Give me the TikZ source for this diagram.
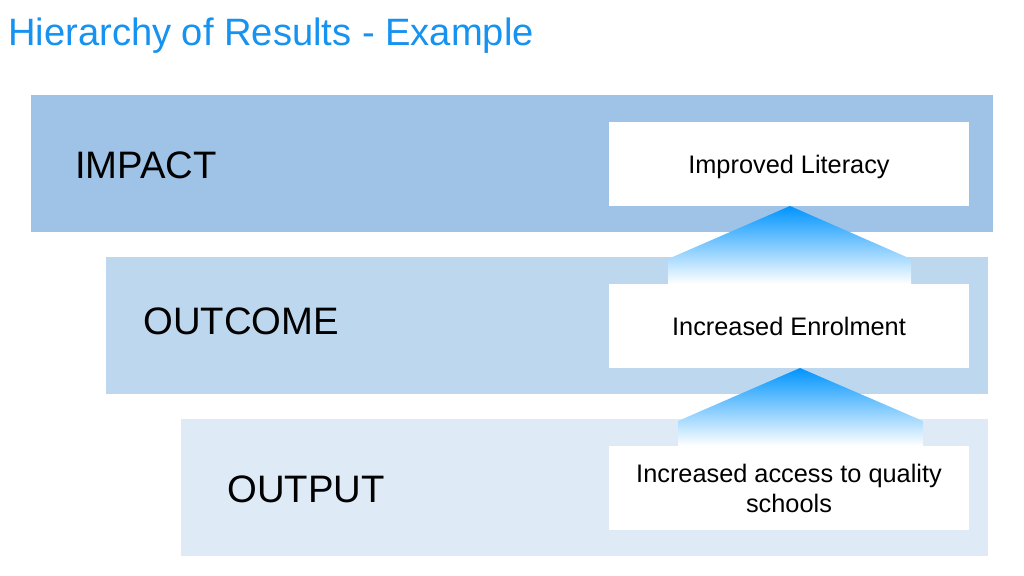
\documentclass[tikz,border=0pt]{standalone}
\usepackage{fontspec}
\setmainfont{Liberation Sans}
\usetikzlibrary{positioning}

\definecolor{titleblue}{RGB}{22,146,240}
\definecolor{impactblue}{RGB}{158,195,230}
\definecolor{outcomeblue}{RGB}{189,215,238}
\definecolor{outputblue}{RGB}{222,235,247}
\definecolor{arrowblue}{RGB}{0,148,255}

\begin{document}
\begin{tikzpicture}[x=0.75pt, y=-0.75pt,
    levelname/.style={anchor=west, inner sep=0pt, font=\fontsize{28.7}{32}\selectfont},
    resultbox/.style={fill=white, minimum width=270pt, minimum height=63pt, inner sep=2pt,
        text depth=0pt, align=center, font=\fontsize{19}{22.5}\selectfont},
    riser/.style={top color=arrowblue, middle color=arrowblue!40, bottom color=white}]
    \useasboundingbox (0,0) rectangle (1024,575);
    \fill[white] (0,0) rectangle (1024,575);

    % Title
    \node[anchor=base west, inner sep=0pt, text=titleblue, font=\fontsize{28.6}{34}\selectfont] (title) at (8,45) {Hierarchy of Results - Example};

    % Bands
    \fill[impactblue] (31,95) rectangle (993,232);
    \fill[outcomeblue] (106,257) rectangle (988,394);
    \fill[outputblue] (181,419) rectangle (988,556);

    % Level names
    \node[levelname] (impact) at (75,165) {IMPACT};
    \node[levelname] (outcome) at (143,321) {OUTCOME};
    \node[levelname] (output) at (227,489) {OUTPUT};

    % Arrows between results
    \shade[riser] (790,206) -- (911,259) -- (911,284) -- (668,284) -- (668,259) -- cycle;
    \shade[riser] (800,368) -- (923,421) -- (923,446) -- (678,446) -- (678,421) -- cycle;

    % Results
    \node[resultbox] (literacy) at (789,164) {Improved Literacy};
    \node[resultbox] (enrolment) at (789,326) {Increased Enrolment};
    \node[resultbox] (access) at (789,488) {Increased access to quality\\schools};
\end{tikzpicture}
\end{document}
